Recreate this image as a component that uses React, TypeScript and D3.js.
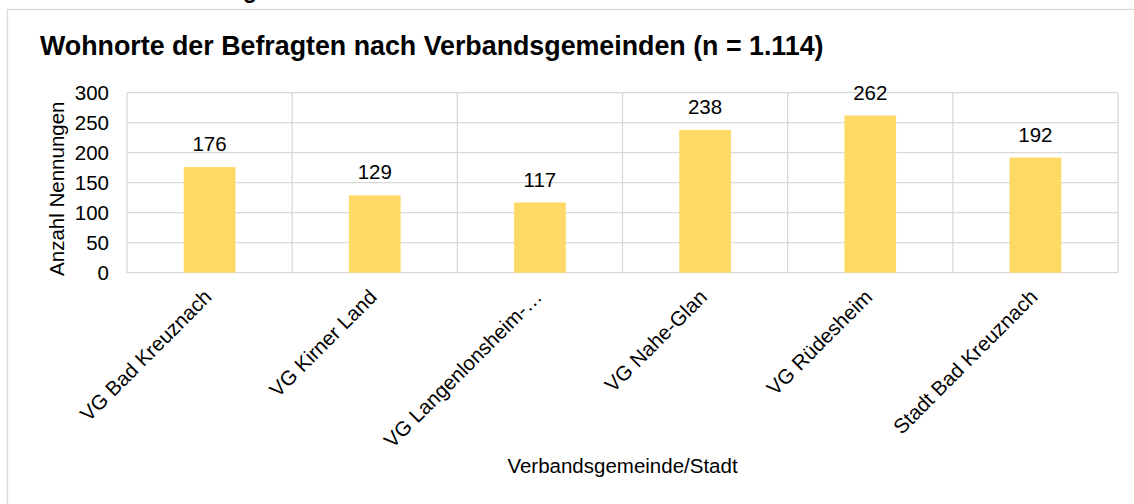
import React from "react";
import * as d3 from "d3";

const categories = [
  "VG Bad Kreuznach",
  "VG Kirner Land",
  "VG Langenlonsheim-…",
  "VG Nahe-Glan",
  "VG Rüdesheim",
  "Stadt Bad Kreuznach",
];
const values = [176, 129, 117, 238, 262, 192];
const yTicks = [0, 50, 100, 150, 200, 250, 300];
const title = "Wohnorte der Befragten nach Verbandsgemeinden (n = 1.114)";
const xTitle = "Verbandsgemeinde/Stadt";
const yTitle = "Anzahl Nennungen";

const W = 1134;
const H = 504;
const plot = { left: 127, right: 1118, top: 92.7, bottom: 272.7 };
const FONT = "'Liberation Sans', Arial, sans-serif";
const GRID = "#D9D9D9";

export default function App() {
  const x = d3
    .scaleBand<string>()
    .domain(categories)
    .range([plot.left, plot.right])
    .paddingInner(0)
    .paddingOuter(0);
  const y = d3.scaleLinear().domain([0, 300]).range([plot.bottom, plot.top]);
  const bw = x.bandwidth() * 0.313;

  return (
    <svg
      width={W}
      height={H}
      style={{ position: "absolute", left: 0, top: 0, background: "#fff" }}
      fontFamily={FONT}
    >
      <rect x={0} y={0} width={W} height={H} fill="#fff" />
      <text x={243} y={-2} fontSize={23} fontWeight="bold" fill="#000">
        g
      </text>
      <rect x={7.5} y={9.5} width={1140} height={520} fill="#fff" stroke={GRID} strokeWidth={1.3} />
      <text x={40} y={55} fontSize={26.8} fontWeight="bold" fill="#000">
        {title}
      </text>
      {/* horizontal gridlines */}
      {yTicks.map((t) => (
        <line
          key={"h" + t}
          x1={plot.left}
          x2={plot.right}
          y1={y(t)}
          y2={y(t)}
          stroke={GRID}
          strokeWidth={1.3}
        />
      ))}
      {/* vertical gridlines at category boundaries */}
      {categories.map((c) => (
        <line
          key={"v" + c}
          x1={x(c)!}
          x2={x(c)!}
          y1={plot.top}
          y2={plot.bottom}
          stroke={GRID}
          strokeWidth={1.3}
        />
      ))}
      <line x1={plot.right} x2={plot.right} y1={plot.top} y2={plot.bottom} stroke={GRID} strokeWidth={1.3} />
      {/* y tick labels */}
      {yTicks.map((t) => (
        <text
          key={"yt" + t}
          x={109}
          y={y(t)}
          dy="0.35em"
          textAnchor="end"
          fontSize={20.5}
          fill="#000"
        >
          {t}
        </text>
      ))}
      {/* bars */}
      {categories.map((c, i) => {
        const cx = x(c)! + x.bandwidth() / 2;
        return (
          <g key={"b" + c}>
            <rect
              x={cx - bw / 2}
              y={y(values[i])}
              width={bw}
              height={plot.bottom - y(values[i])}
              fill="#FFD966"
            />
            <text
              x={cx}
              y={y(values[i]) - 16}
              textAnchor="middle"
              fontSize={20.5}
              fill="#000"
            >
              {values[i]}
            </text>
          </g>
        );
      })}
      {/* category labels */}
      {categories.map((c) => {
        const cx = x(c)! + x.bandwidth() / 2 - 7;
        return (
          <text
            key={"cl" + c}
            transform={`translate(${cx},288) rotate(-45)`}
            dy="0.71em"
            textAnchor="end"
            fontSize={20.5}
            fill="#000"
          >
            {c}
          </text>
        );
      })}
      <text x={(plot.left + plot.right) / 2} y={473} textAnchor="middle" fontSize={20.5} fill="#000">
        {xTitle}
      </text>
      <text
        transform={`translate(64,${(plot.top + plot.bottom) / 2 + 6}) rotate(-90)`}
        textAnchor="middle"
        fontSize={20.5}
        fill="#000"
      >
        {yTitle}
      </text>
    </svg>
  );
}
